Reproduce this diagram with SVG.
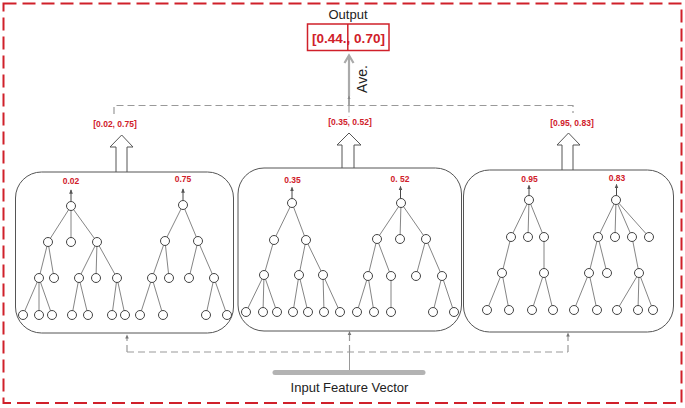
<svg xmlns="http://www.w3.org/2000/svg" width="685" height="408" viewBox="0 0 685 408">
<style>
.frame{fill:none;stroke:#d0202a;stroke-width:2;stroke-dasharray:13 6}
.panel{fill:#fff;stroke:#555;stroke-width:1}
.edge{stroke:#666;stroke-width:0.8;fill:none}
.nd{fill:#fff;stroke:#444;stroke-width:1}
.val{font-family:"Liberation Sans",Arial,sans-serif;font-size:8.5px;font-weight:bold;fill:#d0202a;text-anchor:middle}
.lab{font-family:"Liberation Sans",Arial,sans-serif;font-size:8.5px;font-weight:bold;fill:#d0202a;text-anchor:middle}
.txt{font-family:"Liberation Sans",Arial,sans-serif;fill:#222;text-anchor:middle}
.dash{fill:none;stroke:#999;stroke-width:1.2;stroke-dasharray:7 4}
.solid{fill:none;stroke:#999;stroke-width:1}
.hollow{fill:#fff;stroke:#555;stroke-width:1}
.up{stroke:#333;stroke-width:0.9;fill:none}
</style>
<defs>
<marker id="tip" viewBox="0 0 6 6" refX="5" refY="3" markerWidth="5" markerHeight="5" orient="auto">
<path d="M0,0.5 L6,3 L0,5.5 Z" fill="#555"/>
</marker>
<marker id="tipg" viewBox="0 0 6 6" refX="5" refY="3" markerWidth="4" markerHeight="4" orient="auto">
<path d="M0,0.5 L6,3 L0,5.5 Z" fill="#888"/>
</marker>
</defs>
<rect class="frame" x="3.5" y="3.5" width="678" height="399.5"/>

<g id="output">
<text class="txt" x="348" y="18.5" font-size="13">Output</text>
<rect x="307.5" y="24" width="81.5" height="26.5" fill="#fff" stroke="#d0202a" stroke-width="1.5"/>
<line x1="347.8" y1="24" x2="347.8" y2="50.5" stroke="#d0202a" stroke-width="1.5"/>
<text x="348.5" y="43" font-family="'Liberation Sans',Arial,sans-serif" font-size="13.5" font-weight="bold" fill="#d0202a" text-anchor="middle">[0.44., 0.70]</text>
</g>

<g id="average">
<text class="txt" transform="translate(367,79) rotate(-90)" font-size="14">Ave.</text>
</g>

<g id="connectors">
<!-- averaging arrow -->
<line x1="349" y1="96" x2="349" y2="56" stroke="#aaa" stroke-width="2.2"/>
<polyline points="344.5,63 349,55.5 353.5,63" fill="none" stroke="#aaa" stroke-width="2.2"/>
<line x1="349" y1="105.5" x2="349" y2="96" class="up" stroke="#888" marker-end="url(#tipg)"/>
<!-- top gather line -->
<path class="dash" d="M114,114 V105.5 H573 V113"/>
<line class="dash" x1="349" y1="105.5" x2="349" y2="117"/>
<!-- bottom distribution -->
<line class="solid" x1="349.5" y1="372" x2="349.5" y2="352"/>
<path class="dash" d="M127,352 H568"/>
<line class="dash" x1="127" y1="352" x2="127" y2="338"/>
<line class="dash" x1="349.5" y1="352" x2="349.5" y2="334"/>
<line class="dash" x1="568" y1="352" x2="568" y2="336"/>
<path d="M127,334.5 l-1.8,4 h3.6 Z" fill="#777"/>
<path d="M349.5,331 l-1.8,4 h3.6 Z" fill="#777"/>
<path d="M568,332.5 l-1.8,4 h3.6 Z" fill="#777"/>
</g>

<g id="label-tree-1">
<text class="lab" x="115" y="127">[0.02, 0.75]</text>
</g>
<g id="label-tree-2">
<text class="lab" x="350" y="125">[0.35, 0.52]</text>
</g>
<g id="label-tree-3">
<text class="lab" x="572" y="126">[0.95, 0.83]</text>
</g>

<g id="hollow-arrows">
<path class="hollow" d="M116,172 V147 H110 L121.7,135 L133,147 H127 V172"/>
<path class="hollow" d="M342,168 V145 H337 L349,133 L361,145 H354 V168"/>
<path class="hollow" d="M562,170 V145 H557 L568.5,133 L580,145 H573 V170"/>
</g>

<g id="panel-1">
<rect class="panel" x="15.5" y="172" width="218" height="161" rx="26"/>
<g id="tree-1a">
<text class="val" x="71" y="184">0.02</text>
<line class="up" x1="71" y1="201" x2="71" y2="190" marker-end="url(#tip)"/>
<path class="edge" d="M71,206 L48,242 M71,206 L71,242 M71,206 L97,242 M48,242 L39,278 M48,242 L54,278 M97,242 L79,278 M97,242 L96,278 M97,242 L117,278 M39,278 L23,315 M39,278 L39,315 M39,278 L52,315 M79,278 L72,315 M79,278 L88,315 M117,278 L112,315 M117,278 L125,315"/>
<g class="nd">
<circle cx="71" cy="206" r="4.5"/>
<circle cx="48" cy="242" r="4.5"/><circle cx="71" cy="242" r="4.5"/><circle cx="97" cy="242" r="4.5"/>
<circle cx="39" cy="278" r="4.5"/><circle cx="54" cy="278" r="4.5"/><circle cx="79" cy="278" r="4.5"/><circle cx="96" cy="278" r="4.5"/><circle cx="117" cy="278" r="4.5"/>
<circle cx="23" cy="315" r="4.5"/><circle cx="39" cy="315" r="4.5"/><circle cx="52" cy="315" r="4.5"/><circle cx="72" cy="315" r="4.5"/><circle cx="88" cy="315" r="4.5"/><circle cx="112" cy="315" r="4.5"/><circle cx="125" cy="315" r="4.5"/>
</g>
</g>
<g id="tree-1b">
<text class="val" x="183" y="182">0.75</text>
<line class="up" x1="183" y1="200" x2="183" y2="189" marker-end="url(#tip)"/>
<path class="edge" d="M183,205 L165,241 M183,205 L198,241 M165,241 L152,278 M165,241 L169,278 M198,241 L189,278 M198,241 L214,278 M152,278 L140,315 M152,278 L163,315 M214,278 L206,315 M214,278 L227,315"/>
<g class="nd">
<circle cx="183" cy="205" r="4.5"/>
<circle cx="165" cy="241" r="4.5"/><circle cx="198" cy="241" r="4.5"/>
<circle cx="152" cy="278" r="4.5"/><circle cx="169" cy="278" r="4.5"/><circle cx="189" cy="278" r="4.5"/><circle cx="214" cy="278" r="4.5"/>
<circle cx="140" cy="315" r="4.5"/><circle cx="163" cy="315" r="4.5"/><circle cx="206" cy="315" r="4.5"/><circle cx="227" cy="315" r="4.5"/>
</g>
</g>
</g>

<g id="panel-2">
<rect class="panel" x="238" y="168" width="223.5" height="163" rx="26"/>
<g id="tree-2a">
<text class="val" x="292.5" y="183">0.35</text>
<line class="up" x1="292" y1="198" x2="292" y2="187.5" marker-end="url(#tip)"/>
<path class="edge" d="M292,203 L274,240 M292,203 L306,240 M274,240 L264,275 M306,240 L299,275 M306,240 L323,275 M264,275 L246,312 M264,275 L263,312 M264,275 L277,312 M299,275 L293,312 M299,275 L308,312 M323,275 L324,312 M323,275 L340,312"/>
<g class="nd">
<circle cx="292" cy="203" r="4.5"/>
<circle cx="274" cy="240" r="4.5"/><circle cx="306" cy="240" r="4.5"/>
<circle cx="264" cy="275" r="4.5"/><circle cx="299" cy="275" r="4.5"/><circle cx="323" cy="275" r="4.5"/>
<circle cx="246" cy="312" r="4.5"/><circle cx="263" cy="312" r="4.5"/><circle cx="277" cy="312" r="4.5"/><circle cx="293" cy="312" r="4.5"/><circle cx="308" cy="312" r="4.5"/><circle cx="324" cy="312" r="4.5"/><circle cx="340" cy="312" r="4.5"/>
</g>
</g>
<g id="tree-2b">
<text class="val" x="400" y="182">0. 52</text>
<line class="up" x1="400.5" y1="198" x2="400.5" y2="186.5" marker-end="url(#tip)"/>
<path class="edge" d="M401,203 L377,239 M401,203 L400,239 M401,203 L426,239 M377,239 L368,276 M377,239 L391,276 M426,239 L416,276 M426,239 L442,276 M368,276 L357,312 M368,276 L374,312 M391,276 L391,312 M442,276 L433,312 M442,276 L454,312"/>
<g class="nd">
<circle cx="401" cy="203" r="4.5"/>
<circle cx="377" cy="239" r="4.5"/><circle cx="400" cy="239" r="4.5"/><circle cx="426" cy="239" r="4.5"/>
<circle cx="368" cy="276" r="4.5"/><circle cx="391" cy="276" r="4.5"/><circle cx="416" cy="276" r="4.5"/><circle cx="442" cy="276" r="4.5"/>
<circle cx="357" cy="312" r="4.5"/><circle cx="374" cy="312" r="4.5"/><circle cx="391" cy="312" r="4.5"/><circle cx="433" cy="312" r="4.5"/><circle cx="454" cy="312" r="4.5"/>
</g>
</g>
</g>

<g id="panel-3">
<rect class="panel" x="463.5" y="170" width="210" height="162" rx="26"/>
<g id="tree-3a">
<text class="val" x="529.5" y="182">0.95</text>
<line class="up" x1="529" y1="195.5" x2="529" y2="185.5" marker-end="url(#tip)"/>
<path class="edge" d="M529,200 L511,237 M529,200 L528,237 M529,200 L544,237 M511,237 L502,273 M544,237 L544,273 M502,273 L487,310 M502,273 L509,310 M544,273 L532,310 M544,273 L553,310"/>
<g class="nd">
<circle cx="529" cy="200" r="4.5"/>
<circle cx="511" cy="237" r="4.5"/><circle cx="528" cy="237" r="4.5"/><circle cx="544" cy="237" r="4.5"/>
<circle cx="502" cy="273" r="4.5"/><circle cx="544" cy="273" r="4.5"/>
<circle cx="487" cy="310" r="4.5"/><circle cx="509" cy="310" r="4.5"/><circle cx="532" cy="310" r="4.5"/><circle cx="553" cy="310" r="4.5"/>
</g>
</g>
<g id="tree-3b">
<text class="val" x="617" y="181">0.83</text>
<line class="up" x1="616.5" y1="195.5" x2="616.5" y2="184.5" marker-end="url(#tip)"/>
<path class="edge" d="M616,200 L598,237 M616,200 L615,237 M616,200 L632,237 M616,200 L649,237 M598,237 L589,273 M598,237 L607,273 M632,237 L639,273 M589,273 L574,310 M589,273 L597,310 M639,273 L617,310 M639,273 L638,310 M639,273 L653,310"/>
<g class="nd">
<circle cx="616" cy="200" r="4.5"/>
<circle cx="598" cy="237" r="4.5"/><circle cx="615" cy="237" r="4.5"/><circle cx="632" cy="237" r="4.5"/><circle cx="649" cy="237" r="4.5"/>
<circle cx="589" cy="273" r="4.5"/><circle cx="607" cy="273" r="4.5"/><circle cx="639" cy="273" r="4.5"/>
<circle cx="574" cy="310" r="4.5"/><circle cx="597" cy="310" r="4.5"/><circle cx="617" cy="310" r="4.5"/><circle cx="638" cy="310" r="4.5"/><circle cx="653" cy="310" r="4.5"/>
</g>
</g>
</g>

<g id="input">
<line x1="275" y1="372.5" x2="423" y2="372.5" stroke="#b3b3b3" stroke-width="5" stroke-linecap="round"/>
<text class="txt" x="349.5" y="391.5" font-size="13">Input Feature Vector</text>
</g>
</svg>
